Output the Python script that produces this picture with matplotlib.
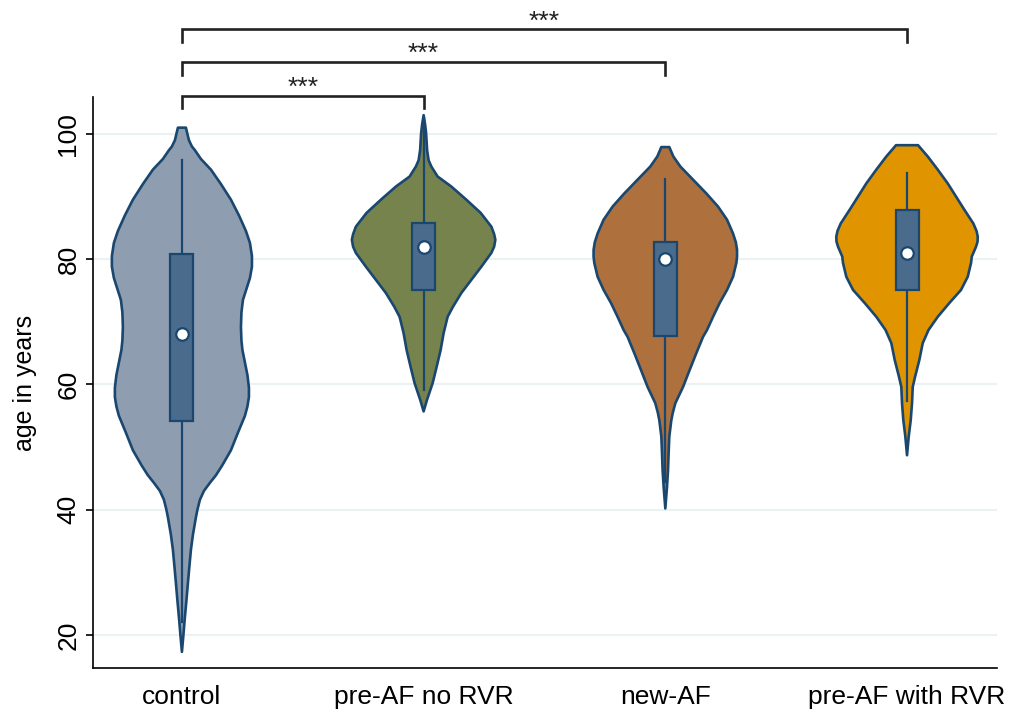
import numpy as np
import matplotlib
matplotlib.use("Agg")
import matplotlib.pyplot as plt

plt.rcParams['font.family'] = ['Liberation Sans', 'DejaVu Sans']

groups = ["control", "pre-AF no RVR", "new-AF", "pre-AF with RVR"]
fills = ["#8f9db0", "#77834c", "#ae703c", "#e09400"]

# violin outlines: age and relative half-width
control_age = [101.0, 101.0, 100.0, 99.0, 98.0, 97.4, 96.0, 94.3, 92.0, 89.5, 87.0,
               84.5, 82.6, 80.5, 78.8, 77.0, 75.0, 73.5, 71.5, 69.2, 67.0, 65.5,
               63.5, 61.5, 59.5, 58.0, 56.5, 55.0, 52.3, 49.5, 47.0, 45.5, 44.3,
               43.0, 41.6, 40.0, 38.8, 36.0, 33.6, 31.0, 28.3, 25.5, 22.9, 20.0, 17.3]
control_w = [0, 4, 5.5, 7, 10, 13, 19, 29, 39, 49, 57, 64, 68, 70, 70, 68, 64, 61,
             59.5, 59, 59.5, 60.5, 63, 65.5, 67, 67, 65.5, 63, 56, 49, 40, 34, 28, 22, 18,
             15.5, 14, 11, 9, 7.5, 6, 4.5, 3, 1.5, 0]

norvr_age = [103.0, 101.5, 100.1, 97.4, 95.8, 94.8, 93.2, 91.6, 89.5, 87.4, 85.2,
             84.0, 83.1, 82.0, 81.0, 78.8, 76.7, 74.6, 72.4, 70.8, 68.2, 65.5,
             62.8, 60.2, 57.5, 55.7]
norvr_w = [0, 1.5, 2.5, 3.5, 5, 7.7, 14, 27.7, 42.7, 57, 67.7, 70.5, 71.7, 70.5,
           67.7, 57.7, 47.7, 37.7, 29.3, 24, 20, 17, 13, 9, 3.3, 0]

newaf_age = [97.9, 97.9, 96.4, 94.8, 92.7, 90.5, 88.4, 86.3, 84.1, 82.7, 81.5,
             80.4, 79.4, 77.2, 75.1, 73.0, 70.8, 68.7, 67.6, 65.0, 62.3, 59.6,
             57.0, 55.5, 54.3, 51.7, 49.0, 46.3, 43.7, 40.2]
newaf_w = [0, 4, 8, 15, 27.7, 41, 52.7, 61.7, 67.7, 70.5, 71.7, 71.7, 71, 67.7,
           61.7, 54.3, 47.7, 41.7, 37.7, 31, 24.3, 17.7, 10, 7.5, 6, 4, 3.3, 2.7,
           1.7, 0]

rvr_age = [98.2, 98.2, 96.4, 94.3, 92.1, 90.0, 87.9, 85.7, 84.5, 83.6, 82.8, 82.0,
           80.4, 79.4, 77.2, 75.1, 73.0, 70.8, 68.7, 66.6, 63.9, 61.2, 59.6, 57.0,
           54.3, 51.7, 48.7]
rvr_w = [0, 11, 20.7, 30.7, 40.7, 49, 57.3, 66.3, 69.5, 70.7, 70.5, 69, 64.7, 64,
         60.7, 54, 42.3, 30.7, 21.5, 15.7, 12.3, 8, 5.7, 5, 3.7, 1.7, 0]

profiles = [(control_age, control_w), (norvr_age, norvr_w),
            (newaf_age, newaf_w), (rvr_age, rvr_w)]

q1 = [54.2, 75.1, 67.7, 75.1]
medians = [68.0, 82.0, 80.0, 81.0]
q3 = [80.8, 85.7, 82.8, 87.8]
whisk_lo = [22.1, 59.1, 44.5, 57.3]
whisk_hi = [95.8, 102.5, 92.8, 93.8]

# pairwise comparisons (control vs. each group)
comparisons = [(1, 2, "***"), (1, 3, "***"), (1, 4, "***")]

navy = "#1a476f"
boxfill = "#4a6b8c"

fig = plt.figure(figsize=(10.16, 7.13), dpi=100)
ax = fig.add_axes([0.0915, 0.0631, 0.8895, 0.8009])

wscale = 0.298 / 72.0
for i, (ages, w) in enumerate(profiles):
    x0 = i + 1
    ages = np.array(ages)
    hw = np.array(w) * wscale
    xs = np.concatenate([x0 - hw, (x0 + hw)[::-1]])
    ys = np.concatenate([ages, ages[::-1]])
    ax.fill(xs, ys, facecolor=fills[i], edgecolor=navy, linewidth=1.9,
            joinstyle="round", zorder=3)
    ax.plot([x0, x0], [whisk_lo[i], whisk_hi[i]], color=navy, lw=1.6, zorder=4)
    bw = 0.0476
    ax.add_patch(plt.Rectangle((x0 - bw, q1[i]), 2 * bw, q3[i] - q1[i],
                               facecolor=boxfill, edgecolor=navy, lw=1.6, zorder=5))
    ax.plot(x0, medians[i], "o", ms=9, mfc="white", mec=navy, mew=1.6, zorder=6)

# brackets above the plot
levels = [(106.07, 104.15, 107.3), (111.5, 109.42, 112.73), (116.77, 114.69, 117.84)]
for (a, b, txt), (top, foot, ty) in zip(comparisons, levels):
    ax.plot([a, a, b, b], [foot, top, top, foot], color="#222222", lw=1.9,
            clip_on=False, zorder=7, solid_joinstyle="miter")
    ax.text((a + b) / 2, ty, txt, ha="center", va="center", fontsize=19,
            color="#222222", clip_on=False)

ax.set_xlim(0.632, 4.371)
ax.set_ylim(14.73, 105.9)
ax.set_yticks([20, 40, 60, 80, 100])
ax.set_yticklabels(["20", "40", "60", "80", "100"], rotation=90, va="center")
ax.set_xticks([1, 2, 3, 4])
ax.set_xticklabels(groups)
ax.tick_params(axis="x", length=0, pad=12, labelsize=19)
ax.tick_params(axis="y", length=5, width=1.2, pad=4, labelsize=19)
ax.set_ylabel("age in years", fontsize=18, labelpad=14)
ax.yaxis.grid(True, color="#eaf2f3", lw=1.5, zorder=0)
ax.set_axisbelow(True)
for s in ["top", "right"]:
    ax.spines[s].set_visible(False)
for s in ["left", "bottom"]:
    ax.spines[s].set_linewidth(1.2)

fig.savefig("out.png", dpi=100)
